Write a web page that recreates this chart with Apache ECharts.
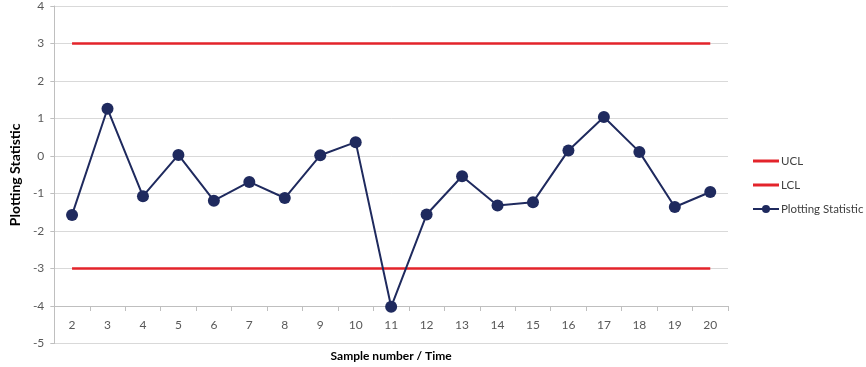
<!DOCTYPE html>
<html>
<head>
<meta charset="utf-8">
<script src="https://cdn.jsdelivr.net/npm/echarts@6/dist/echarts.min.js"></script>
<style>
  html, body { margin: 0; padding: 0; background: #fff; }
  #container { width: 866px; height: 367px; }
</style>
</head>
<body>
<div id="container"></div>
<script>
var samples = ['2', '3', '4', '5', '6', '7', '8', '9', '10', '11', '12', '13', '14', '15', '16', '17', '18', '19', '20'];
var plotting = [-1.57, 1.26, -1.07, 0.03, -1.19, -0.69, -1.12, 0.02, 0.37, -4.02, -1.56, -0.54, -1.32, -1.23, 0.15, 1.04, 0.11, -1.36, -0.96];
var ucl = [3, 3, 3, 3, 3, 3, 3, 3, 3, 3, 3, 3, 3, 3, 3, 3, 3, 3, 3];
var lcl = [-3, -3, -3, -3, -3, -3, -3, -3, -3, -3, -3, -3, -3, -3, -3, -3, -3, -3, -3];
var yTicks = [-5, -4, -3, -2, -1, 0, 1, 2, 3, 4];

var myChart = echarts.init(document.getElementById('container'));
var font = 'Lato, "Open Sans", sans-serif';
var gridTop = 6, gridBottom = 23;
// x axis sits on the -4 line, one step above the bottom of the grid
var step = (367 - gridTop - gridBottom) / (yTicks.length - 1);
var lineIcon = 'path://M0,3.5 L26,3.5 L26,6.5 L0,6.5 Z';

var option = {
    animation: false,
    textStyle: { fontFamily: font },
    grid: { left: 51, right: 138, top: gridTop, bottom: gridBottom },
    legend: {
        orient: 'vertical',
        left: 747,
        top: 150,
        itemGap: 12,
        itemWidth: 26,
        itemHeight: 10,
        textStyle: { color: '#404040', fontSize: 11.5, fontFamily: font, padding: [0, 0, 0, -3] },
        data: [
            { name: 'UCL', icon: lineIcon },
            { name: 'LCL', icon: lineIcon },
            { name: 'Plotting Statistic' }
        ]
    },
    xAxis: {
        type: 'category',
        data: samples,
        boundaryGap: true,
        offset: -step,
        name: 'Sample number / Time',
        nameLocation: 'middle',
        nameGap: 44,
        nameTextStyle: { fontWeight: 'bold', fontSize: 12, color: '#000' },
        axisLine: { onZero: false, lineStyle: { color: '#bfbfbf' } },
        axisTick: { show: true, length: 5, lineStyle: { color: '#bfbfbf' } },
        axisLabel: { color: '#595959', fontSize: 12, margin: 13 }
    },
    yAxis: {
        type: 'value',
        min: -5,
        max: 4,
        interval: 1,
        name: 'Plotting Statistic',
        nameLocation: 'middle',
        nameGap: 30,
        nameTextStyle: { fontWeight: 'bold', fontSize: 14, color: '#000' },
        axisLine: { show: true, lineStyle: { color: '#bfbfbf' } },
        axisTick: { show: true, length: 4, lineStyle: { color: '#bfbfbf' } },
        axisLabel: { color: '#595959', fontSize: 12, margin: 10 },
        splitLine: { lineStyle: { color: '#d9d9d9' } }
    },
    series: [
        {
            name: 'UCL',
            type: 'line',
            data: ucl,
            symbol: 'none',
            lineStyle: { color: '#e3242b', width: 2.5 },
            itemStyle: { color: '#e3242b' }
        },
        {
            name: 'LCL',
            type: 'line',
            data: lcl,
            symbol: 'none',
            lineStyle: { color: '#e3242b', width: 2.5 },
            itemStyle: { color: '#e3242b' }
        },
        {
            name: 'Plotting Statistic',
            type: 'line',
            data: plotting,
            symbol: 'circle',
            symbolSize: 12,
            lineStyle: { color: '#1f2a5e', width: 2 },
            itemStyle: { color: '#1f2a5e' }
        }
    ]
};
myChart.setOption(option);
</script>
</body>
</html>
